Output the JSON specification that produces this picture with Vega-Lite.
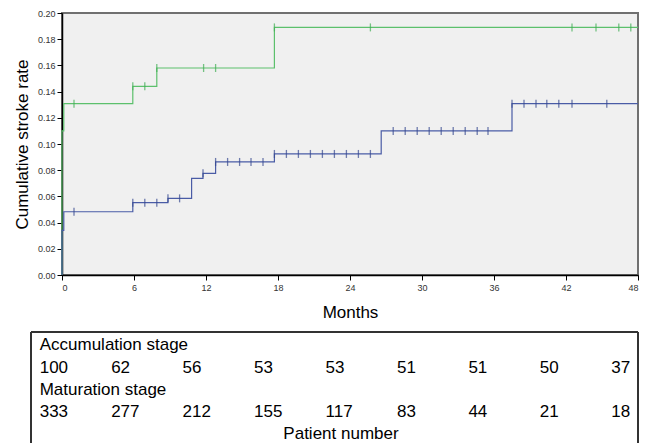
{
  "$schema": "https://vega.github.io/schema/vega-lite/v6.json",
  "padding": {"left": 12, "top": 8, "right": 0, "bottom": 0},
  "background": "white",
  "spacing": 10,
  "config": {
    "font": "Liberation Sans",
    "view": {"stroke": null},
    "axis": {"grid": false, "labelOverlap": false}
  },
  "datasets": {
    "curves": [
      {"series": "Accumulation stage", "month": 0, "rate": 0},
      {"series": "Accumulation stage", "month": 0, "rate": 0.110},
      {"series": "Accumulation stage", "month": 0.15, "rate": 0.1308},
      {"series": "Accumulation stage", "month": 5.9, "rate": 0.144},
      {"series": "Accumulation stage", "month": 7.9, "rate": 0.158},
      {"series": "Accumulation stage", "month": 17.7, "rate": 0.189},
      {"series": "Accumulation stage", "month": 48, "rate": 0.189},
      {"series": "Maturation stage", "month": 0, "rate": 0},
      {"series": "Maturation stage", "month": 0, "rate": 0.034},
      {"series": "Maturation stage", "month": 0.15, "rate": 0.0483},
      {"series": "Maturation stage", "month": 5.9, "rate": 0.0552},
      {"series": "Maturation stage", "month": 8.83, "rate": 0.0585},
      {"series": "Maturation stage", "month": 10.8, "rate": 0.0738},
      {"series": "Maturation stage", "month": 11.75, "rate": 0.0776},
      {"series": "Maturation stage", "month": 12.8, "rate": 0.0863},
      {"series": "Maturation stage", "month": 17.7, "rate": 0.0924},
      {"series": "Maturation stage", "month": 26.6, "rate": 0.110},
      {"series": "Maturation stage", "month": 37.5, "rate": 0.1308},
      {"series": "Maturation stage", "month": 48, "rate": 0.1308}
    ],
    "censored": [
      {"series": "Accumulation stage", "month": 1.0, "rate": 0.1308},
      {"series": "Accumulation stage", "month": 5.9, "rate": 0.144},
      {"series": "Accumulation stage", "month": 6.9, "rate": 0.144},
      {"series": "Accumulation stage", "month": 7.9, "rate": 0.158},
      {"series": "Accumulation stage", "month": 11.8, "rate": 0.158},
      {"series": "Accumulation stage", "month": 12.8, "rate": 0.158},
      {"series": "Accumulation stage", "month": 17.7, "rate": 0.189},
      {"series": "Accumulation stage", "month": 25.7, "rate": 0.189},
      {"series": "Accumulation stage", "month": 42.5, "rate": 0.189},
      {"series": "Accumulation stage", "month": 44.5, "rate": 0.189},
      {"series": "Accumulation stage", "month": 46.4, "rate": 0.189},
      {"series": "Accumulation stage", "month": 47.4, "rate": 0.189},
      {"series": "Maturation stage", "month": 1.0, "rate": 0.0483},
      {"series": "Maturation stage", "month": 5.9, "rate": 0.0552},
      {"series": "Maturation stage", "month": 6.9, "rate": 0.0552},
      {"series": "Maturation stage", "month": 7.9, "rate": 0.0552},
      {"series": "Maturation stage", "month": 8.83, "rate": 0.0585},
      {"series": "Maturation stage", "month": 9.8, "rate": 0.0585},
      {"series": "Maturation stage", "month": 11.75, "rate": 0.0776},
      {"series": "Maturation stage", "month": 12.8, "rate": 0.0863},
      {"series": "Maturation stage", "month": 13.8, "rate": 0.0863},
      {"series": "Maturation stage", "month": 14.8, "rate": 0.0863},
      {"series": "Maturation stage", "month": 15.75, "rate": 0.0863},
      {"series": "Maturation stage", "month": 16.75, "rate": 0.0863},
      {"series": "Maturation stage", "month": 17.7, "rate": 0.0924},
      {"series": "Maturation stage", "month": 18.7, "rate": 0.0924},
      {"series": "Maturation stage", "month": 19.7, "rate": 0.0924},
      {"series": "Maturation stage", "month": 20.7, "rate": 0.0924},
      {"series": "Maturation stage", "month": 21.7, "rate": 0.0924},
      {"series": "Maturation stage", "month": 22.7, "rate": 0.0924},
      {"series": "Maturation stage", "month": 23.7, "rate": 0.0924},
      {"series": "Maturation stage", "month": 24.7, "rate": 0.0924},
      {"series": "Maturation stage", "month": 25.7, "rate": 0.0924},
      {"series": "Maturation stage", "month": 27.6, "rate": 0.110},
      {"series": "Maturation stage", "month": 28.6, "rate": 0.110},
      {"series": "Maturation stage", "month": 29.6, "rate": 0.110},
      {"series": "Maturation stage", "month": 30.6, "rate": 0.110},
      {"series": "Maturation stage", "month": 31.6, "rate": 0.110},
      {"series": "Maturation stage", "month": 32.6, "rate": 0.110},
      {"series": "Maturation stage", "month": 33.6, "rate": 0.110},
      {"series": "Maturation stage", "month": 34.6, "rate": 0.110},
      {"series": "Maturation stage", "month": 35.5, "rate": 0.110},
      {"series": "Maturation stage", "month": 37.5, "rate": 0.1308},
      {"series": "Maturation stage", "month": 38.5, "rate": 0.1308},
      {"series": "Maturation stage", "month": 39.5, "rate": 0.1308},
      {"series": "Maturation stage", "month": 40.4, "rate": 0.1308},
      {"series": "Maturation stage", "month": 41.4, "rate": 0.1308},
      {"series": "Maturation stage", "month": 42.5, "rate": 0.1308},
      {"series": "Maturation stage", "month": 45.4, "rate": 0.1308}
    ],
    "table": [
      {"line": 1, "month": 0, "text": "Accumulation stage", "kind": "label"},
      {"line": 2, "month": 0, "text": "100", "kind": "count"},
      {"line": 2, "month": 6, "text": "62", "kind": "count"},
      {"line": 2, "month": 12, "text": "56", "kind": "count"},
      {"line": 2, "month": 18, "text": "53", "kind": "count"},
      {"line": 2, "month": 24, "text": "53", "kind": "count"},
      {"line": 2, "month": 30, "text": "51", "kind": "count"},
      {"line": 2, "month": 36, "text": "51", "kind": "count"},
      {"line": 2, "month": 42, "text": "50", "kind": "count"},
      {"line": 2, "month": 48, "text": "37", "kind": "count"},
      {"line": 3, "month": 0, "text": "Maturation stage", "kind": "label"},
      {"line": 4, "month": 0, "text": "333", "kind": "count"},
      {"line": 4, "month": 6, "text": "277", "kind": "count"},
      {"line": 4, "month": 12, "text": "212", "kind": "count"},
      {"line": 4, "month": 18, "text": "155", "kind": "count"},
      {"line": 4, "month": 24, "text": "117", "kind": "count"},
      {"line": 4, "month": 30, "text": "83", "kind": "count"},
      {"line": 4, "month": 36, "text": "44", "kind": "count"},
      {"line": 4, "month": 42, "text": "21", "kind": "count"},
      {"line": 4, "month": 48, "text": "18", "kind": "count"},
      {"line": 5, "month": 25.3, "text": "Patient number", "kind": "title"}
    ]
  },
  "vconcat": [
    {
      "width": 576,
      "height": 262,
      "view": {"fill": "#f0f0f0", "stroke": "#707070", "strokeWidth": 2},
      "encoding": {
        "x": {
          "field": "month", "type": "quantitative",
          "scale": {"domain": [0, 48], "nice": false, "zero": false},
          "axis": {
            "values": [0, 6, 12, 18, 24, 30, 36, 42, 48],
            "title": "Months", "titleFontSize": 17, "titleFontWeight": "normal",
            "titleColor": "#000", "titlePadding": 12,
            "labelFontSize": 9, "labelColor": "#333", "labelPadding": 3,
            "tickSize": 5, "tickColor": "#000", "domainColor": "#000", "domainWidth": 1.5
          }
        },
        "y": {
          "field": "rate", "type": "quantitative",
          "scale": {"domain": [0, 0.2], "nice": false},
          "axis": {
            "values": [0, 0.02, 0.04, 0.06, 0.08, 0.1, 0.12, 0.14, 0.16, 0.18, 0.2],
            "format": ".2f", "labelOverlap": false,
            "title": "Cumulative stroke rate", "titleFontSize": 17, "titleFontWeight": "normal",
            "titleColor": "#000", "titlePadding": 6,
            "labelFontSize": 9, "labelColor": "#333", "labelPadding": 2,
            "tickSize": 5, "tickColor": "#000", "domainColor": "#000", "domainWidth": 1.5
          }
        }
      },
      "layer": [
        {
          "data": {"name": "curves"},
          "mark": {"type": "line", "interpolate": "step-after", "strokeWidth": 1.2},
          "encoding": {
            "color": {
              "field": "series", "type": "nominal",
              "scale": {"domain": ["Accumulation stage", "Maturation stage"], "range": ["#5cc06c", "#4a5ca6"]},
              "legend": null
            }
          }
        },
        {
          "data": {"name": "censored"},
          "mark": {"type": "tick", "orient": "vertical", "size": 8, "thickness": 1.3},
          "encoding": {
            "color": {
              "field": "series", "type": "nominal",
              "scale": {"domain": ["Accumulation stage", "Maturation stage"], "range": ["#3fae52", "#34478f"]},
              "legend": null
            }
          }
        }
      ],
      "resolve": {"scale": {"color": "independent"}}
    },
    {
      "width": 576,
      "height": 113,
      "view": {"stroke": null, "fill": null},
      "data": {"name": "table"},
      "encoding": {
        "x": {
          "field": "month", "type": "quantitative",
          "scale": {"domain": [1.873, 50.24], "nice": false, "zero": false},
          "axis": null
        },
        "y": {
          "field": "line", "type": "quantitative",
          "scale": {"domain": [0.1685, 5.25], "nice": false, "zero": false, "reverse": true},
          "axis": null
        }
      },
      "layer": [
        {
          "mark": {"type": "rect", "fill": null, "stroke": "#333", "strokeWidth": 1, "clip": false},
          "encoding": {
            "x": {"datum": -0.705},
            "x2": {"datum": 50.24},
            "y": {"datum": 0.1685},
            "y2": {"datum": 6.5}
          }
        },
        {
          "transform": [{"filter": "datum.kind !== 'title'"}],
          "mark": {"type": "text", "align": "left", "baseline": "alphabetic", "fontSize": 17, "color": "#000"},
          "encoding": {"text": {"field": "text"}}
        },
        {
          "transform": [{"filter": "datum.kind === 'title'"}],
          "mark": {"type": "text", "align": "center", "baseline": "alphabetic", "fontSize": 17, "color": "#000"},
          "encoding": {"text": {"field": "text"}}
        }
      ]
    }
  ]
}
